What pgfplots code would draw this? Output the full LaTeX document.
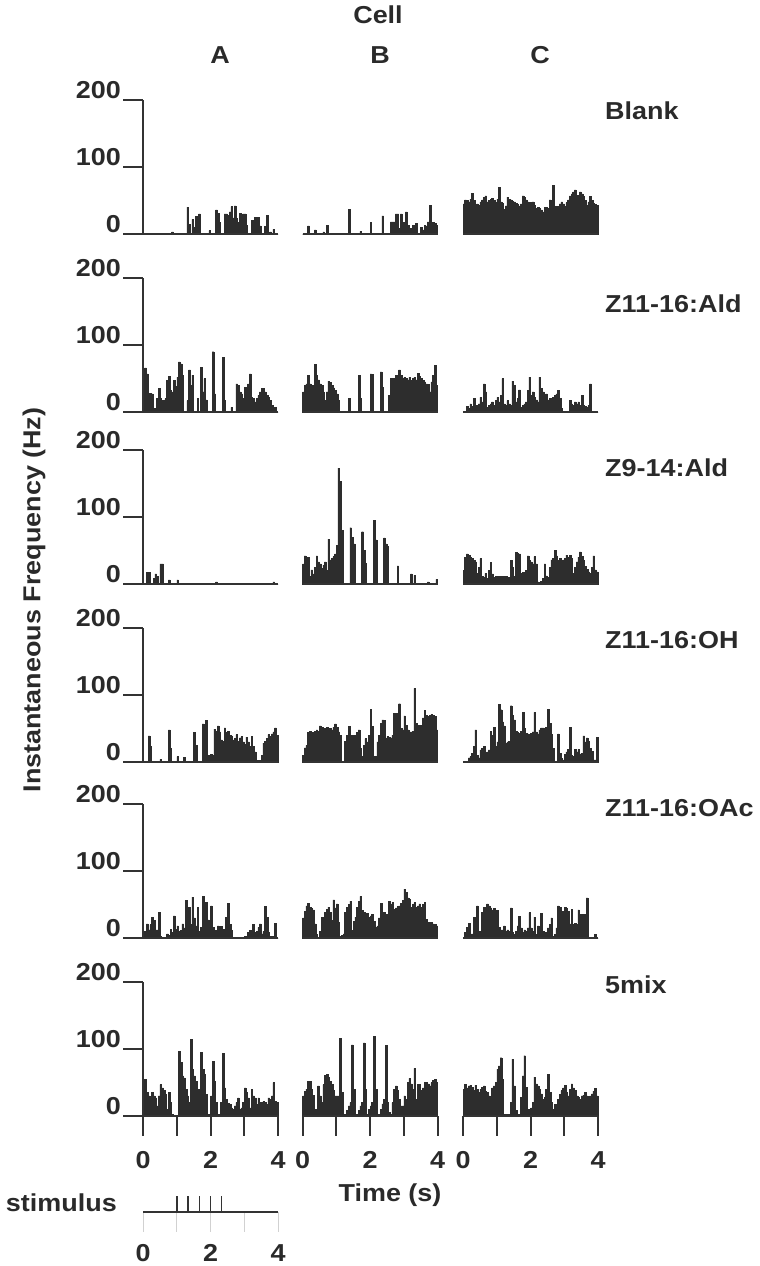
\documentclass[border=0pt]{standalone}
\usepackage{pgfplots}
\usepackage{pgfplotstable}
\pgfplotsset{compat=1.18}
\usepackage{fontspec}
\setmainfont[FakeStretch=1.1]{Liberation Sans}
\definecolor{txt}{HTML}{2A2A2A}
\definecolor{barc}{HTML}{2D2D2D}
\definecolor{axc}{HTML}{333333}

% ---------- data: 80 bins of 0.05 s each (0-4 s) ----------
% Row 1: Blank
\pgfplotstableread[row sep=\\]{y\\
0\\0\\0\\0\\0\\0\\0\\0\\0\\0\\ 0\\0\\0\\0\\0\\0\\0\\3\\0\\0\\
0\\0\\0\\0\\0\\0\\40\\14\\0\\22\\ 10\\26\\0\\30\\0\\0\\0\\0\\0\\5\\
0\\0\\0\\36\\31\\17\\0\\0\\30\\30\\ 28\\33\\41\\24\\42\\23\\17\\31\\29\\30\\
30\\13\\0\\0\\20\\20\\25\\25\\25\\12\\ 0\\0\\11\\28\\0\\3\\0\\7\\0\\0\\}\tAA
\pgfplotstableread[row sep=\\]{y\\
0\\0\\0\\12\\0\\0\\0\\6\\0\\0\\ 0\\0\\3\\0\\13\\0\\0\\0\\0\\0\\
0\\0\\0\\0\\0\\0\\0\\37\\0\\0\\ 0\\0\\0\\0\\4\\0\\0\\0\\0\\0\\
17\\0\\0\\0\\0\\0\\0\\27\\0\\0\\ 0\\0\\18\\18\\18\\30\\30\\8\\30\\17\\
0\\33\\13\\0\\8\\13\\13\\16\\0\\0\\ 10\\6\\13\\12\\18\\43\\14\\17\\16\\13\\}\tBA
\pgfplotstableread[row sep=\\]{y\\
45\\51\\50\\48\\52\\61\\50\\44\\45\\43\\ 48\\51\\55\\57\\48\\50\\52\\53\\50\\47\\
52\\70\\48\\46\\37\\42\\55\\52\\51\\49\\ 48\\46\\44\\42\\45\\57\\55\\51\\48\\46\\
47\\48\\43\\38\\40\\38\\36\\33\\40\\40\\ 38\\51\\40\\73\\41\\40\\41\\45\\48\\45\\
41\\47\\51\\57\\60\\63\\66\\58\\51\\63\\ 60\\56\\50\\43\\48\\56\\50\\46\\44\\43\\}\tCA
% Row 2: Z11-16:Ald
\pgfplotstableread[row sep=\\]{y\\
60\\66\\57\\28\\28\\27\\5\\0\\20\\35\\ 20\\17\\17\\20\\47\\53\\32\\30\\47\\38\\
52\\75\\72\\55\\0\\0\\17\\63\\40\\55\\ 0\\0\\20\\0\\67\\30\\50\\18\\0\\0\\
0\\90\\27\\0\\0\\0\\0\\82\\17\\0\\ 0\\0\\7\\0\\0\\42\\40\\30\\27\\20\\
37\\30\\42\\57\\22\\20\\15\\20\\25\\30\\ 35\\35\\30\\25\\22\\17\\10\\0\\7\\0\\}\tAB
\pgfplotstableread[row sep=\\]{y\\
30\\40\\42\\55\\42\\40\\40\\71\\55\\48\\ 42\\40\\30\\17\\30\\46\\44\\40\\36\\32\\
27\\17\\0\\0\\0\\0\\0\\20\\0\\0\\ 0\\0\\0\\55\\20\\0\\0\\0\\0\\0\\
57\\56\\0\\0\\0\\0\\60\\37\\0\\0\\ 0\\25\\50\\48\\50\\55\\52\\63\\55\\50\\
52\\50\\48\\52\\47\\50\\52\\48\\58\\53\\ 50\\47\\45\\42\\41\\30\\45\\55\\70\\40\\}\tBB
\pgfplotstableread[row sep=\\]{y\\
0\\0\\8\\5\\12\\8\\20\\10\\10\\12\\ 22\\15\\42\\30\\7\\10\\12\\15\\10\\17\\
22\\15\\25\\50\\12\\10\\17\\12\\10\\46\\ 40\\15\\20\\33\\7\\10\\12\\15\\32\\52\\
25\\30\\22\\18\\15\\52\\35\\30\\22\\27\\ 18\\20\\20\\22\\25\\27\\32\\20\\5\\0\\
0\\0\\0\\17\\12\\10\\15\\12\\15\\10\\ 25\\10\\8\\7\\10\\42\\0\\0\\0\\0\\}\tCB
% Row 3: Z9-14:Ald
\pgfplotstableread[row sep=\\]{y\\
0\\0\\17\\17\\0\\0\\8\\15\\11\\0\\ 30\\30\\0\\0\\0\\6\\0\\0\\0\\0\\
6\\0\\0\\0\\0\\0\\0\\0\\0\\0\\ 0\\0\\0\\0\\0\\0\\0\\0\\0\\0\\
0\\0\\0\\3\\0\\0\\0\\0\\0\\0\\ 0\\0\\0\\0\\0\\0\\0\\0\\0\\0\\
0\\0\\0\\0\\0\\0\\0\\0\\0\\0\\ 0\\0\\0\\0\\0\\0\\0\\3\\0\\0\\}\tAC
\pgfplotstableread[row sep=\\]{y\\
30\\42\\40\\40\\11\\21\\15\\25\\42\\33\\ 30\\23\\28\\33\\20\\67\\36\\38\\41\\45\\
58\\173\\153\\80\\0\\0\\0\\0\\84\\70\\ 60\\0\\0\\0\\0\\78\\50\\31\\0\\0\\
0\\0\\95\\66\\0\\0\\0\\0\\69\\60\\ 56\\0\\0\\0\\0\\0\\27\\0\\0\\0\\
0\\0\\0\\0\\15\\0\\13\\0\\0\\0\\ 0\\0\\0\\0\\3\\0\\0\\0\\0\\7\\}\tBC
\pgfplotstableread[row sep=\\]{y\\
20\\40\\45\\43\\40\\38\\35\\33\\16\\25\\ 38\\11\\10\\16\\8\\20\\32\\15\\10\\11\\
8\\11\\11\\11\\11\\11\\8\\10\\35\\25\\ 11\\47\\46\\45\\16\\17\\17\\20\\42\\35\\
33\\30\\41\\30\\3\\2\\4\\8\\30\\12\\ 10\\25\\36\\38\\50\\42\\35\\38\\32\\36\\
38\\43\\40\\43\\38\\16\\25\\33\\40\\48\\ 41\\35\\26\\22\\18\\16\\25\\42\\21\\18\\}\tCC
% Row 4: Z11-16:OH
\pgfplotstableread[row sep=\\]{y\\
0\\0\\0\\39\\23\\0\\0\\0\\0\\0\\ 4\\0\\0\\0\\0\\48\\20\\0\\0\\0\\
8\\0\\0\\0\\7\\0\\0\\0\\0\\0\\ 44\\25\\0\\0\\0\\57\\50\\62\\10\\10\\
11\\10\\49\\46\\54\\45\\33\\31\\51\\44\\ 46\\40\\39\\33\\35\\41\\31\\36\\38\\30\\
26\\37\\30\\23\\38\\23\\15\\2\\2\\2\\ 10\\28\\31\\35\\41\\38\\42\\45\\51\\40\\}\tAD
\pgfplotstableread[row sep=\\]{y\\
10\\21\\25\\44\\46\\41\\44\\46\\48\\46\\ 54\\52\\50\\50\\52\\50\\50\\48\\52\\57\\
52\\45\\40\\1\\1\\31\\40\\53\\30\\40\\ 40\\35\\44\\48\\20\\8\\25\\35\\30\\40\\
79\\53\\8\\8\\30\\40\\58\\63\\62\\35\\ 38\\37\\36\\40\\73\\73\\60\\87\\50\\48\\
69\\55\\48\\45\\45\\46\\110\\58\\55\\50\\ 55\\66\\77\\70\\68\\70\\71\\70\\68\\48\\}\tBD
\pgfplotstableread[row sep=\\]{y\\
0\\0\\0\\6\\8\\13\\23\\48\\10\\6\\ 18\\20\\23\\12\\15\\18\\46\\40\\52\\23\\
30\\86\\78\\60\\54\\28\\30\\31\\84\\70\\ 63\\46\\44\\43\\46\\74\\50\\43\\42\\41\\
43\\45\\74\\45\\42\\48\\51\\51\\50\\52\\ 79\\58\\41\\20\\1\\1\\42\\13\\5\\3\\
11\\15\\19\\52\\10\\8\\19\\15\\19\\12\\ 13\\39\\30\\36\\31\\20\\16\\3\\3\\37\\}\tCD
% Row 5: Z11-16:OAc
\pgfplotstableread[row sep=\\]{y\\
0\\10\\21\\12\\20\\31\\26\\12\\12\\38\\ 3\\0\\0\\0\\6\\4\\13\\8\\33\\13\\
18\\10\\11\\21\\15\\56\\8\\46\\20\\61\\ 30\\18\\46\\10\\16\\62\\40\\53\\27\\10\\
48\\16\\8\\11\\18\\10\\17\\13\\10\\31\\ 52\\20\\11\\1\\0\\0\\0\\0\\0\\0\\
2\\1\\8\\11\\5\\20\\8\\10\\16\\21\\ 6\\10\\47\\31\\8\\3\\3\\1\\22\\0\\}\tAE
\pgfplotstableread[row sep=\\]{y\\
30\\40\\48\\52\\46\\44\\42\\21\\5\\1\\ 10\\31\\31\\38\\43\\46\\38\\26\\57\\45\\
51\\23\\3\\4\\6\\38\\46\\50\\55\\11\\ 25\\31\\46\\55\\62\\41\\38\\37\\37\\31\\
33\\35\\25\\16\\18\\30\\52\\38\\38\\35\\ 31\\55\\50\\53\\43\\45\\47\\48\\52\\56\\
73\\68\\60\\58\\46\\50\\53\\46\\48\\51\\ 46\\50\\53\\28\\23\\23\\23\\21\\20\\18\\}\tBE
\pgfplotstableread[row sep=\\]{y\\
0\\8\\16\\22\\5\\6\\31\\10\\48\\10\\ 5\\38\\46\\46\\51\\48\\45\\42\\44\\41\\
41\\16\\12\\12\\18\\10\\12\\10\\45\\8\\ 5\\10\\18\\32\\15\\8\\12\\10\\15\\38\\
15\\10\\31\\5\\18\\15\\37\\10\\7\\8\\ 15\\20\\30\\3\\5\\15\\48\\46\\35\\40\\
46\\44\\40\\21\\43\\20\\22\\20\\42\\35\\ 35\\30\\35\\60\\1\\1\\1\\1\\5\\0\\}\tCE
% Row 6: 5mix
\pgfplotstableread[row sep=\\]{y\\
40\\55\\35\\30\\27\\35\\30\\27\\15\\30\\ 47\\42\\38\\32\\10\\35\\20\\3\\0\\0\\
0\\96\\80\\60\\57\\40\\30\\20\\114\\70\\ 60\\52\\10\\40\\95\\70\\62\\32\\3\\0\\
30\\82\\52\\20\\3\\3\\20\\94\\42\\25\\ 19\\17\\12\\10\\15\\20\\27\\10\\12\\20\\
42\\35\\27\\12\\40\\30\\27\\17\\27\\20\\ 20\\22\\20\\17\\27\\25\\30\\50\\22\\20\\}\tAF
\pgfplotstableread[row sep=\\]{y\\
30\\37\\40\\52\\52\\40\\31\\10\\5\\45\\ 30\\20\\47\\61\\62\\58\\52\\47\\38\\30\\
30\\30\\116\\35\\3\\3\\8\\15\\20\\106\\ 40\\3\\3\\8\\15\\20\\109\\40\\3\\10\\
15\\20\\119\\40\\3\\3\\10\\18\\25\\105\\ 20\\5\\3\\20\\40\\45\\38\\25\\15\\15\\
30\\25\\50\\56\\48\\40\\71\\25\\47\\47\\ 38\\42\\50\\50\\48\\45\\50\\53\\55\\50\\}\tBF
\pgfplotstableread[row sep=\\]{y\\
40\\47\\42\\45\\46\\43\\38\\46\\40\\35\\ 40\\43\\45\\37\\35\\30\\27\\42\\45\\50\\
70\\75\\87\\55\\3\\3\\3\\3\\20\\85\\ 45\\8\\3\\3\\28\\60\\90\\43\\10\\8\\
12\\20\\58\\48\\45\\40\\33\\25\\28\\40\\ 62\\35\\20\\10\\17\\12\\25\\32\\38\\42\\
46\\35\\30\\40\\48\\42\\38\\30\\28\\25\\ 30\\31\\35\\30\\17\\30\\33\\37\\41\\30\\}\tCF

\pgfplotsset{
  panel/.style={scale only axis, width=135pt, height=134pt,
    xmin=0, xmax=4, ymin=0, ymax=200, hide axis, clip=false,
    anchor=south west},
}
\tikzset{
  axl/.style={line width=2pt, color=axc},
  lab/.style={inner sep=0pt, font=\fontsize{24.5}{28}\selectfont\bfseries, text=txt},
}

% #1 x-left, #2 baseline (px from top), #3 table, #4 extra drawing
\newcommand\panel[4]{%
  \begin{axis}[panel, at={(#1pt,-#2pt)}]
    \addplot[ybar, bar width=0.05, fill=barc, draw=barc, line width=0.4pt]
      table[x expr=\coordindex*0.05+0.025, y=y] {#3};
    \draw[axl] (axis cs:0,0) -- (axis cs:4,0);
    #4
  \end{axis}}

\newcommand\yax{%
  \draw[axl] (axis cs:0,0) -- (axis cs:0,200);
  \draw[axl] (axis cs:0,0) -- ++(-20pt,0);
  \draw[axl] (axis cs:0,100) -- ++(-20pt,0);
  \draw[axl] (axis cs:0,200) -- ++(-20pt,0);
  \node[lab, anchor=base east, xshift=-22pt, yshift=2pt] at (axis cs:0,0) {0};
  \node[lab, anchor=base east, xshift=-22pt, yshift=2pt] at (axis cs:0,100) {100};
  \node[lab, anchor=base east, xshift=-22pt, yshift=2pt] at (axis cs:0,200) {200};}

\newcommand\xax{%
  \draw[axl] (axis cs:0,0) -- ++(0,-20pt);
  \draw[axl] (axis cs:1,0) -- ++(0,-20pt);
  \draw[axl] (axis cs:2,0) -- ++(0,-20pt);
  \draw[axl] (axis cs:3,0) -- ++(0,-20pt);
  \draw[axl] (axis cs:4,0) -- ++(0,-20pt);
  \node[lab, yshift=-44pt] at (axis cs:0,0) {0};
  \node[lab, yshift=-44pt] at (axis cs:2,0) {2};
  \node[lab, yshift=-44pt] at (axis cs:4,0) {4};}

\begin{document}
\begin{tikzpicture}[x=1pt, y=1pt]
\useasboundingbox (0,0) rectangle (760,-1266);

% headers
\node[lab] at (378,-15) {Cell};
\node[lab] at (220,-55) {A};
\node[lab] at (380,-55) {B};
\node[lab] at (540,-55) {C};

% row labels
\node[lab, anchor=west] at (605,-111) {Blank};
\node[lab, anchor=west] at (605,-304) {Z11-16:Ald};
\node[lab, anchor=west] at (605,-468) {Z9-14:Ald};
\node[lab, anchor=west] at (605,-640) {Z11-16:OH};
\node[lab, anchor=west] at (605,-808) {Z11-16:OAc};
\node[lab, anchor=west] at (605,-985) {5mix};

% y label
\node[lab, rotate=90] at (34,-600) {Instantaneous Frequency (Hz)};

% panels
\panel{143}{234}{\tAA}{\yax}
\panel{302.5}{234}{\tBA}{}
\panel{463}{234}{\tCA}{}

\panel{143}{412}{\tAB}{\yax}
\panel{302.5}{412}{\tBB}{}
\panel{463}{412}{\tCB}{}

\panel{143}{584}{\tAC}{\yax}
\panel{302.5}{584}{\tBC}{}
\panel{463}{584}{\tCC}{}

\panel{143}{762}{\tAD}{\yax}
\panel{302.5}{762}{\tBD}{}
\panel{463}{762}{\tCD}{}

\panel{143}{938}{\tAE}{\yax}
\panel{302.5}{938}{\tBE}{}
\panel{463}{938}{\tCE}{}

\panel{143}{1116}{\tAF}{\yax\xax}
\panel{302.5}{1116}{\tBF}{\xax}
\panel{463}{1116}{\tCF}{\xax}

\node[lab] at (390,-1195) {Time (s)};

% stimulus
\node[lab, anchor=east] at (117,-1203) {stimulus};
\begin{axis}[scale only axis, width=135pt, height=16pt, xmin=0, xmax=4,
  ymin=0, ymax=1, hide axis, clip=false, anchor=south west, at={(143pt,-1212pt)}]
  \draw[line width=0.8pt, color=black!18] (axis cs:0,0) -- ++(0,-20pt);
  \draw[line width=0.8pt, color=black!18] (axis cs:1,0) -- ++(0,-20pt);
  \draw[line width=0.8pt, color=black!18] (axis cs:2,0) -- ++(0,-20pt);
  \draw[line width=0.8pt, color=black!18] (axis cs:3,0) -- ++(0,-20pt);
  \draw[line width=0.8pt, color=black!18] (axis cs:4,0) -- ++(0,-20pt);
  \addplot[ycomb, no marks, line width=1.5pt, color=axc]
    coordinates {(1,1) (1.333,1) (1.667,1) (2,1) (2.333,1)};
  \draw[axl] (axis cs:0,0) -- (axis cs:4,0);
  \node[lab, yshift=-41pt] at (axis cs:0,0) {0};
  \node[lab, yshift=-41pt] at (axis cs:2,0) {2};
  \node[lab, yshift=-41pt] at (axis cs:4,0) {4};
\end{axis}
\end{tikzpicture}
\end{document}
